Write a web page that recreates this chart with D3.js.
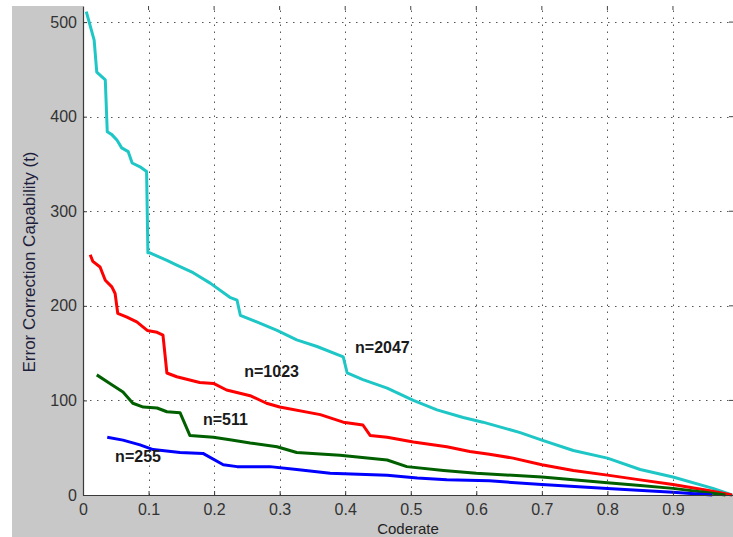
<!DOCTYPE html>
<html lang="en">

<head>
    <meta charset="UTF-8">
    <title>Error Correction Capability vs Coderate</title>
    <script src="https://cdn.jsdelivr.net/npm/d3@7"></script>
    <style>
        html,
        body {
            margin: 0;
            padding: 0;
            background: #fff;
        }

        svg {
            display: block;
            font-family: "Liberation Sans", Arial, sans-serif;
        }
    </style>
</head>

<body>
    <div id="chart"></div>
    <script>
        // Tick values
        const xTicks = [0, 0.1, 0.2, 0.3, 0.4, 0.5, 0.6, 0.7, 0.8, 0.9];
        const yTicks = [0, 100, 200, 300, 400, 500];

        // [coderate, t]
        const n2047 = [
            [0.005, 511], [0.017, 481], [0.021, 447], [0.029, 442], [0.034, 439], [0.037, 384],
            [0.044, 381], [0.052, 375], [0.059, 367], [0.069, 363], [0.075, 351], [0.087, 347],
            [0.097, 342], [0.099, 256], [0.102, 256], [0.128, 248], [0.143, 243], [0.168, 235],
            [0.194, 224], [0.224, 209], [0.235, 206], [0.240, 190], [0.265, 183], [0.296, 174],
            [0.326, 164], [0.357, 157], [0.397, 146], [0.403, 129], [0.427, 122], [0.464, 113],
            [0.504, 100], [0.540, 90], [0.580, 82], [0.610, 77], [0.667, 66], [0.700, 58],
            [0.748, 47], [0.800, 39], [0.850, 27], [0.900, 19], [0.961, 7], [0.990, 0]
        ];
        const n1023 = [
            [0.011, 254], [0.015, 247], [0.026, 241], [0.034, 227], [0.044, 220], [0.049, 213],
            [0.053, 192], [0.067, 188], [0.082, 183], [0.098, 174], [0.113, 172], [0.122, 169],
            [0.128, 129], [0.143, 125], [0.178, 119], [0.199, 118], [0.219, 111], [0.255, 105],
            [0.280, 97], [0.300, 93], [0.362, 85], [0.397, 77], [0.427, 74], [0.438, 63],
            [0.464, 61], [0.504, 56], [0.555, 51], [0.590, 46], [0.620, 43], [0.656, 39],
            [0.700, 32], [0.748, 26], [0.800, 21], [0.850, 16], [0.900, 11], [0.952, 5], [0.990, 0]
        ];
        const n511 = [
            [0.021, 127], [0.041, 118], [0.061, 109], [0.076, 97], [0.092, 93], [0.113, 92],
            [0.128, 88], [0.148, 87], [0.163, 63], [0.199, 61], [0.229, 58], [0.255, 55],
            [0.296, 51], [0.326, 45], [0.392, 42], [0.464, 37], [0.494, 30], [0.550, 26],
            [0.600, 23], [0.700, 19], [0.800, 13], [0.850, 10], [0.900, 7], [0.957, 2], [0.980, 0]
        ];
        const n255 = [
            [0.037, 61], [0.061, 58], [0.087, 53], [0.107, 48], [0.148, 45], [0.183, 44],
            [0.214, 32], [0.235, 30], [0.285, 30], [0.326, 27], [0.377, 23], [0.464, 21],
            [0.510, 18], [0.555, 16], [0.620, 15], [0.700, 11], [0.800, 7], [0.900, 3], [0.960, 0]
        ];

        const seriesNames = ['n=2047', 'n=1023', 'n=511', 'n=255'];
        const seriesColors = ['#1fc6c6', '#ff0000', '#006000', '#0000ff'];
        // label anchor in data units [coderate, t]
        const labelPos = [[0.415, 150], [0.246, 125], [0.183, 74], [0.049, 35]];

        const series = [n2047, n1023, n511, n255];

        const width = 733, height = 537;
        const margin = { top: 6, right: 0, bottom: 42, left: 83 };

        const svg = d3.select('#chart').append('svg')
            .attr('width', width)
            .attr('height', height);

        // grey figure background
        svg.append('rect')
            .attr('x', 12).attr('y', 6)
            .attr('width', width - 12).attr('height', height - 6)
            .attr('fill', '#c8c8c8');

        const x = d3.scaleLinear().domain([0, 0.9916]).range([margin.left, width - margin.right]);
        const y = d3.scaleLinear().domain([0, 517]).range([height - margin.bottom, margin.top]);

        // white axes area
        svg.append('rect')
            .attr('x', x(0)).attr('y', y(517))
            .attr('width', x(0.9916) - x(0)).attr('height', y(0) - y(517))
            .attr('fill', '#fff');

        // dotted grid
        const grid = svg.append('g')
            .attr('stroke', '#555')
            .attr('stroke-width', 1)
            .attr('stroke-dasharray', '1.5,5.5');

        grid.selectAll('.vg').data(xTicks.filter(d => d > 0)).join('line')
            .attr('x1', d => Math.round(x(d)) + 0.5).attr('x2', d => Math.round(x(d)) + 0.5)
            .attr('y1', y(0)).attr('y2', y(517));

        grid.selectAll('.hg').data(yTicks.filter(d => d > 0)).join('line')
            .attr('y1', d => Math.round(y(d)) + 0.5).attr('y2', d => Math.round(y(d)) + 0.5)
            .attr('x1', x(0)).attr('x2', x(0.9916));

        // small inward ticks on top and right edges
        svg.append('g').selectAll('line').data(xTicks.filter(d => d > 0)).join('line')
            .attr('x1', d => x(d)).attr('x2', d => x(d))
            .attr('y1', y(517)).attr('y2', y(517) + 4)
            .attr('stroke', '#444');
        svg.append('g').selectAll('line').data(yTicks).join('line')
            .attr('x1', x(0.9916) - 4).attr('x2', x(0.9916))
            .attr('y1', d => y(d)).attr('y2', d => y(d))
            .attr('stroke', '#444');

        // curves
        const line = d3.line()
            .x(d => x(d[0]))
            .y(d => y(d[1]));

        series.forEach((s, i) => {
            svg.append('path')
                .datum(s)
                .attr('d', line)
                .attr('fill', 'none')
                .attr('stroke', seriesColors[i])
                .attr('stroke-width', 3)
                .attr('stroke-linejoin', 'round');
        });

        // axes
        const xAxis = svg.append('g')
            .attr('transform', `translate(0,${y(0)})`)
            .call(d3.axisBottom(x).tickValues(xTicks).tickFormat(d3.format('~g'))
                .tickSizeInner(-4).tickSizeOuter(0).tickPadding(9));

        const yAxis = svg.append('g')
            .attr('transform', `translate(${x(0)},0)`)
            .call(d3.axisLeft(y).tickValues(yTicks)
                .tickSizeInner(-4).tickSizeOuter(0).tickPadding(6));

        [xAxis, yAxis].forEach(a => {
            a.select('.domain').attr('stroke', '#3a3a3a').attr('stroke-width', 1.2);
            a.selectAll('.tick line').attr('stroke', '#3a3a3a');
            a.selectAll('.tick text')
                .attr('fill', '#333')
                .style('font-size', '16px')
                .style('font-family', '"Liberation Sans", Arial, sans-serif');
        });

        // axis titles
        svg.append('text')
            .attr('x', (x(0) + x(0.9916)) / 2)
            .attr('y', 534)
            .attr('text-anchor', 'middle')
            .attr('fill', '#222')
            .style('font-size', '15px')
            .text('Coderate');

        svg.append('text')
            .attr('transform', 'translate(35,262) rotate(-90)')
            .attr('text-anchor', 'middle')
            .attr('fill', '#1e1e3c')
            .style('font-size', '17px')
            .text('Error Correction Capability (t)');

        // curve labels
        svg.append('g').selectAll('text').data(seriesNames).join('text')
            .attr('x', (d, i) => x(labelPos[i][0]))
            .attr('y', (d, i) => y(labelPos[i][1]))
            .attr('fill', '#1a1a1a')
            .style('font-size', '16px')
            .style('font-weight', 'bold')
            .text(d => d);
    </script>
</body>

</html>
